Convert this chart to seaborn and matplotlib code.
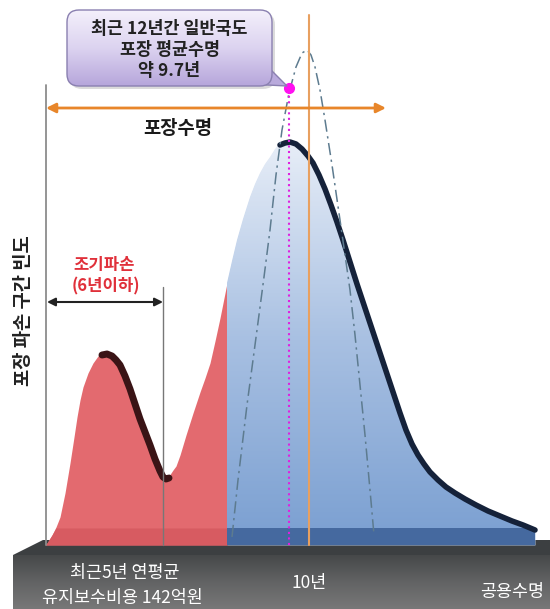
import numpy as np
import matplotlib.pyplot as plt
import seaborn as sns
from matplotlib.patches import Polygon, FancyBboxPatch
from matplotlib.colors import LinearSegmentedColormap

# 곡선 데이터 (x 위치, 파손 빈도 높이)
curve_x = [45, 47, 52, 56, 60, 65, 70, 74, 77, 80, 83, 88, 93, 98, 102, 107, 112, 116, 120,
           125, 130, 135, 140, 145, 150, 155, 160, 163, 166, 169, 173, 176, 180, 186, 193,
           200, 205, 210, 215, 220, 227, 232, 237, 243, 250, 255, 260, 265, 270, 275, 280,
           285, 290, 296, 302, 308, 313, 319, 325, 331, 337, 343, 350, 357, 364, 370, 377,
           385, 393, 400, 406, 412, 418, 424, 430, 438, 446, 455, 465, 476, 488, 500, 512,
           523, 535]
curve_h = [0, 2, 10, 18, 28, 52, 82, 108, 128, 145, 158, 172, 182, 189, 192, 193, 191, 187,
           182, 171, 158, 143, 128, 115, 102, 88, 76, 70, 68, 69, 75, 79, 90, 110, 132,
           153, 167, 182, 204, 227, 262, 284, 305, 326, 348, 361, 372, 381, 388, 396, 402,
           404, 405, 403, 398, 391, 384, 372, 358, 342, 325, 307, 285, 263, 242, 224, 203,
           179, 155, 134, 117, 103, 92, 83, 75, 67, 60, 54, 48, 42, 36, 31, 26,
           22, 17]

# 일반국도 평균수명 분포 (일점쇄선)
narrow_x = [232, 238, 247, 257, 264, 270, 276, 282, 289, 296, 302, 307, 311, 315, 320, 325,
            332, 340, 345, 350, 355, 360, 365, 370, 374]
narrow_h = [8, 65, 140, 215, 268, 315, 370, 415, 452, 478, 492, 495, 490, 478, 455, 425,
            380, 325, 290, 255, 210, 160, 110, 55, 10]

early_end = 163     # 조기파손 경계 (6년)
split_x = 227       # 적색/청색 경계
mean_x, mean_h = 289, 457   # 평균수명 9.7년
ten_x = 309         # 10년
life_left, life_right = 46, 386

box_lines = ['최근 12년간 일반국도', '포장 평균수명', '약 9.7년']
bottom_left = ['최근5년 연평균', '유지보수비용 142억원']

sns.set_theme(style='white')
plt.rcParams['font.family'] = ['Noto Sans CJK KR', 'DejaVu Sans']

fig = plt.figure(figsize=(5.5, 6.09), dpi=100)
ax = fig.add_axes([0, 0, 1, 1])
ax.set_xlim(0, 550)
ax.set_ylim(-64, 545)
ax.axis('off')

x = np.array(curve_x, dtype=float)
h = np.array(curve_h, dtype=float)

# 받침대
ax.add_patch(Polygon([(43, 5), (550, 5), (550, -10), (13, -10)], closed=True,
                     facecolor='#3c3f41', edgecolor='none', zorder=1))
base_cmap = LinearSegmentedColormap.from_list('base', ['#464849', '#626364', '#787878'])
front = Polygon([(13, -10), (550, -10), (550, -64), (13, -64)], closed=True,
                facecolor='none', edgecolor='none')
ax.add_patch(front)
im = ax.imshow(np.linspace(0, 1, 100).reshape(-1, 1), cmap=base_cmap, aspect='auto',
               extent=(13, 550, -64, -10), origin='upper', zorder=1)
im.set_clip_path(front)

# 적색 영역 (조기파손 포함)
ax.fill_between(x, 0, h, where=x <= split_x, color='#e36a6f', lw=0, zorder=2)
# 청색 영역 (그라데이션)
blue = ax.fill_between(x, 0, h, where=x >= split_x, color='#a9c0e0', lw=0, zorder=2)
blue_cmap = LinearSegmentedColormap.from_list('blue', ['#7a9fd1', '#a8c0e2', '#e9eff8'])
im2 = ax.imshow(np.linspace(0, 1, 200).reshape(-1, 1), cmap=blue_cmap, aspect='auto',
                extent=(split_x, 540, 0, 410), origin='lower', zorder=2)
im2.set_clip_path(blue.get_paths()[0], transform=ax.transData)

# 하단 짙은 띠
strip = np.minimum(h, 17)
ax.fill_between(x, 0, strip, where=x <= split_x, color='#d75b61', lw=0, zorder=3)
ax.fill_between(x, 0, strip, where=x >= split_x, color='#45699f', lw=0, zorder=3)

# 곡선 테두리(그림자)
left_mask = (x >= 102) & (x <= 169)
right_mask = x >= 280
sns.lineplot(x=x[left_mask], y=h[left_mask] - 2, color='#3a1416', lw=5, ax=ax, zorder=4,
             solid_capstyle='round')
sns.lineplot(x=x[right_mask], y=h[right_mask] - 2, color='#15223a', lw=4, ax=ax, zorder=4,
             solid_capstyle='round')

# 평균수명 분포 일점쇄선
sns.lineplot(x=narrow_x, y=narrow_h, color='#5d7b8f', lw=1.1, ax=ax, zorder=5,
             linestyle=(0, (8, 3, 1.5, 3)))

# 세로선
ax.plot([life_left, life_left], [0, 460], color='#8c8c8c', lw=1.3, zorder=5)
ax.plot([ten_x, ten_x], [0, 530], color='#e8a060', lw=1.5, zorder=5)
ax.plot([early_end, early_end], [0, 258], color='#777777', lw=1.0, zorder=5)
ax.plot([mean_x, mean_x], [0, mean_h], color='#e020e0', lw=1.5, ls=':', zorder=6)
ax.plot([mean_x], [mean_h], 'o', color='#ff10f0', ms=7, zorder=7)

# 포장수명 화살표
ax.annotate('', xy=(life_right, 437), xytext=(life_left, 437),
            arrowprops=dict(arrowstyle='<|-|>', color='#e8862a', lw=2, mutation_scale=14,
                            shrinkA=0, shrinkB=0), zorder=6)
ax.text(178, 416, '포장수명', ha='center', va='center', fontsize=13.5, fontweight='bold',
        color='#1a1a1a')

# 조기파손 화살표
ax.annotate('', xy=(early_end, 243), xytext=(life_left + 1, 243),
            arrowprops=dict(arrowstyle='<|-|>', color='#222222', lw=1.5, mutation_scale=12,
                            shrinkA=0, shrinkB=0), zorder=6)
ax.text(104, 280, '조기파손', ha='center', va='center', fontsize=12, fontweight='bold',
        color='#e0303a')
ax.text(106, 259, '(6년이하)', ha='center', va='center', fontsize=12, fontweight='bold',
        color='#e0303a')

# y축 제목
ax.text(24, 234, '포장 파손 구간 빈도', ha='center', va='center', rotation=90,
        fontsize=13.5, fontweight='bold', color='#222222')

# 말풍선
bx, by, bw, bh = 67, 459, 205, 76
ax.add_patch(FancyBboxPatch((bx + 3, by - 3), bw, bh, boxstyle='round,pad=0,rounding_size=12',
                            facecolor='#999999', edgecolor='none', alpha=0.35, zorder=7))
ax.add_patch(Polygon([(248, 461), (270, 476), (287, 459)], closed=True,
                     facecolor='#b9aadc', edgecolor='#8a80b0', lw=1, zorder=8))
box = FancyBboxPatch((bx, by), bw, bh, boxstyle='round,pad=0,rounding_size=12',
                     facecolor='#c8bbe6', edgecolor='none', zorder=8)
ax.add_patch(box)
box_cmap = LinearSegmentedColormap.from_list('box', ['#b6a6db', '#dcd3f0', '#f4f0fb'])
im3 = ax.imshow(np.linspace(0, 1, 100).reshape(-1, 1), cmap=box_cmap, aspect='auto',
                extent=(bx, bx + bw, by, by + bh), origin='lower', zorder=9)
im3.set_clip_path(box)
ax.add_patch(FancyBboxPatch((bx, by), bw, bh, boxstyle='round,pad=0,rounding_size=12',
                            facecolor='none', edgecolor='#8a80b0', lw=1, zorder=10))
for i, line in enumerate(box_lines):
    ax.text(bx + bw / 2, 516 - i * 21, line, ha='center', va='center', fontsize=12.5,
            fontweight='bold', color='#222222', zorder=11)

# 하단 라벨
ax.text(125, -28, bottom_left[0], ha='center', va='center', fontsize=12.5,
        color='white', zorder=11)
ax.text(122, -53, bottom_left[1], ha='center', va='center', fontsize=12.5,
        color='white', zorder=11)
ax.text(ten_x, -38, '10년', ha='center', va='center', fontsize=12.5, color='white', zorder=11)
ax.text(512, -47, '공용수명', ha='center', va='center', fontsize=12.5, color='white', zorder=11)

fig.savefig('out.png', dpi=100)
